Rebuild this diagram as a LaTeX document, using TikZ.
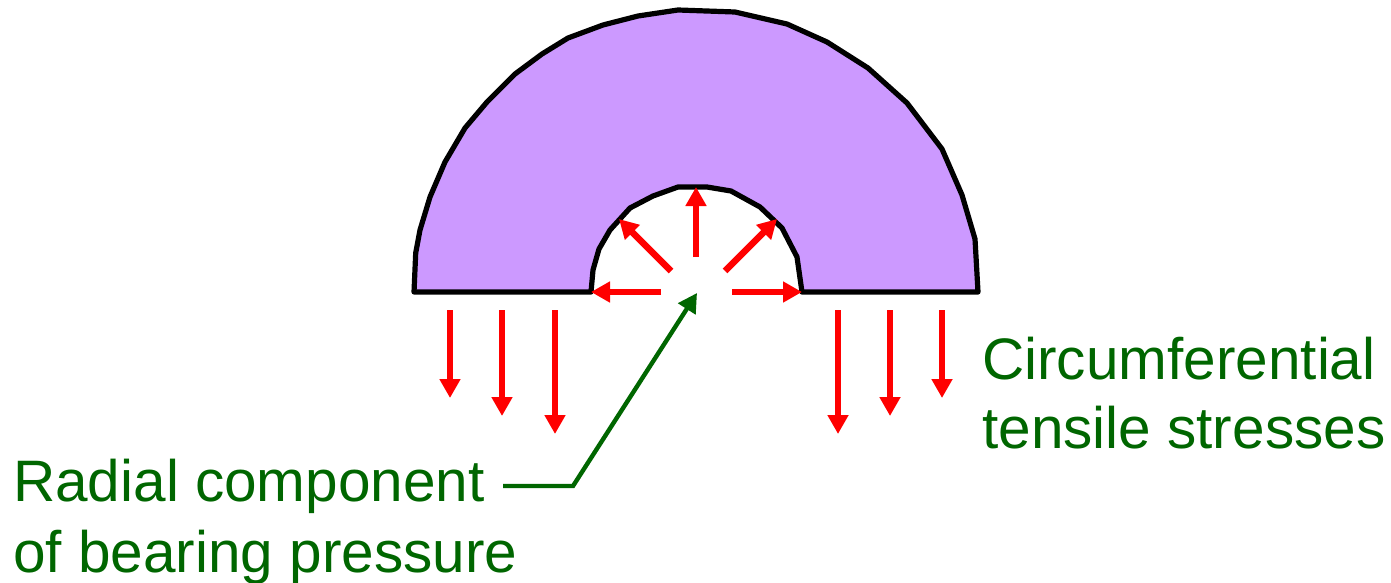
\documentclass[tikz,border=0pt]{standalone}
\usepackage{fontspec}
\setmainfont{Liberation Sans}
\usetikzlibrary{arrows.meta}
\definecolor{ringfill}{RGB}{204,153,255}
\definecolor{labelgreen}{RGB}{0,102,0}
\tikzset{
  ring/.style={draw=black,fill=ringfill,line width=5.2pt,line join=round},
  stress/.style={draw=red,line width=6.6pt,-{Triangle[length=19pt,width=20pt]}},
  leader/.style={draw=labelgreen,line width=4.4pt,-{Triangle[length=19pt,width=20pt]}},
  lbl/.style={text=labelgreen,anchor=base west,inner sep=0pt,font=\fontsize{58.5}{66}\selectfont}
}
\begin{document}
\begin{tikzpicture}[x=1pt,y=-1pt]
\useasboundingbox (0,0) rectangle (1391,583);
\draw[ring] (414,292) -- (415.7,253) -- (420,230) -- (430,197) -- (445,162) -- (465,128) -- (487,102) -- (515,74) -- (542,54) -- (568,38) -- (603,25) -- (638,16) -- (678,10) -- (735,12) -- (787,24) -- (827,42) -- (868,68) -- (907,103) -- (942,149) -- (962,195) -- (975,239) -- (978,292)
 -- (802,292) -- (797,257) -- (782,228) -- (760,207) -- (731,191) -- (707,187) -- (678,187) -- (653,196) -- (630,208) -- (610,230) -- (599,249) -- (593,270) -- (591,292) -- cycle;
\coordinate (u) at (696,257); \coordinate (ut) at (696,187);
\coordinate (l) at (661,292); \coordinate (lt) at (591,292);
\coordinate (r) at (732,292); \coordinate (rt) at (802,292);
\coordinate (dl) at (671,271); \coordinate (dlt) at (619,219);
\coordinate (dr) at (725,271); \coordinate (drt) at (777,219);
\draw[stress] (u) -- (ut);
\draw[stress] (l) -- (lt);
\draw[stress] (r) -- (rt);
\draw[stress] (dl) -- (dlt);
\draw[stress] (dr) -- (drt);
\foreach \n/\x/\e in {a/450/398,b/502/416,c/555/434,d/838/434,e/890/416,f/942/398}{
  \coordinate (\n s) at (\x,310);
  \coordinate (\n e) at (\x,\e);
  \draw[stress] (\n s) -- (\n e);
}
\coordinate (ls) at (503,486);
\coordinate (lk) at (573,486);
\coordinate (lt2) at (697,293);
\draw[leader] (ls) -- (lk) -- (lt2);
\node[lbl] (n1) at (13,501.5) {Radial component};
\node[lbl] (n2) at (13,572.5) {of bearing pressure};
\node[lbl] (n3) at (982,379) {Circumferential};
\node[lbl] (n4) at (982,448.5) {tensile stresses};
\end{tikzpicture}
\end{document}
